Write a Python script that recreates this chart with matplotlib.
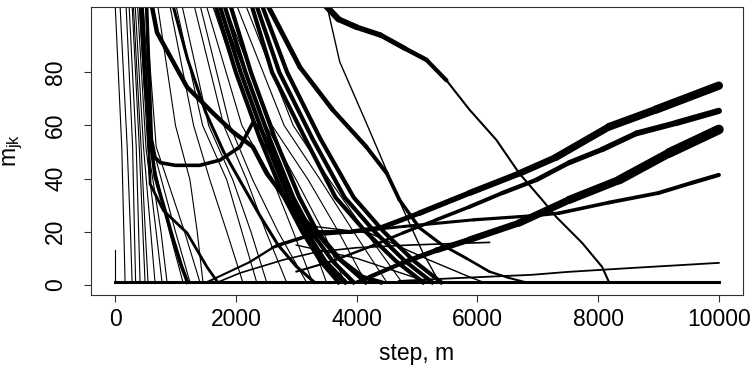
import matplotlib.pyplot as plt

plt.rcParams['font.family'] = ['Liberation Sans', 'DejaVu Sans']
plt.rcParams['mathtext.fontset'] = 'custom'
plt.rcParams['mathtext.rm'] = 'Liberation Sans'

# the floor that every series settles on
base_x = [0, 10000]
base_y = [1, 1]
start_x = [0, 0, 60]
start_y = [13, 1, 1]

# steep thin lines near step 0: x position where each crosses these heights
steep_levels = [106, 52, 20, 1]
steep_x = [
    [0, 110, 145, 165],
    [80, 200, 255, 281],
    [180, 290, 320, 340],
    [230, 350, 390, 413],
    [280, 400, 460, 496],
    [300, 430, 500, 545],
    [330, 470, 590, 661],
    [370, 510, 680, 777],
    [400, 540, 760, 860],
    [430, 580, 900, 1124],
    [460, 620, 1000, 1240],
    [500, 680, 1150, 1405],
]

# thin lines through the middle cluster
mid_levels = [106, 60, 39.5, 20, 1]
mid_x = [
    [700, 1000, 1240, 1360, 1455],
    [900, 1300, 1570, 1850, 2115],
    [1000, 1450, 1850, 2100, 2345],
    [1100, 1550, 1950, 2250, 2510],
    [1300, 1800, 2180, 2500, 2840],
    [1400, 1900, 2280, 2700, 3170],
    [1500, 2100, 2610, 2950, 3270],
    [1600, 2300, 2800, 3200, 3500],
    [1700, 2500, 3000, 3450, 3800],
    [1800, 2600, 3200, 3700, 4150],
    [2000, 2800, 3400, 3950, 4500],
    [2150, 2950, 3550, 4150, 4750],
]

# thick (noisy) bundles falling from the top
bundle_levels = [106, 80, 55, 33, 20, 9, 1]
bundle_x = [
    [1650, 2000, 2400, 2800, 3100, 3400, 3700],
    [1720, 2080, 2480, 2870, 3170, 3480, 3820],
    [1800, 2160, 2560, 2950, 3250, 3600, 3950],
    [1900, 2250, 2650, 3050, 3350, 3750, 4150],
    [2250, 2600, 3150, 3650, 4150, 4650, 5100],
    [2330, 2720, 3270, 3800, 4300, 4800, 5250],
    [2420, 2850, 3400, 3950, 4450, 4950, 5400],
]

hump_x = [520, 560, 600, 660, 750, 1000, 1400, 1740, 2070, 2280, 2400, 2520, 2700, 2900, 3100, 3350, 3600, 3800]
hump_y = [106, 80, 55, 48, 46, 45, 45, 47, 52, 61, 59, 54, 45, 35, 25, 13, 5, 1]

t2_x = [600, 694, 1190, 1620, 1950, 2280, 2510, 2840, 3340, 3700, 4100, 4400]
t2_y = [106, 95, 74.5, 64.7, 57.6, 52, 42, 32, 19.6, 10, 3, 1]
t3_x = [950, 1200, 1500, 1800, 2100, 2400, 2700, 3000, 3300]
t3_y = [106, 85, 65, 50, 38, 26, 15, 7, 1]
t4_x = [420, 500, 600, 661, 800, 950, 1100, 1200]
t4_y = [106, 75, 52, 41, 30, 18, 7, 1]
t5_x = [450, 530, 580, 800, 1190, 1520, 1700]
t5_y = [106, 70, 38, 28, 19.6, 6.8, 1]

# long descending curve from the top middle
d1a_x = [3450, 3700, 4000, 4400, 4800, 5157, 5488]
d1a_y = [106, 100, 97, 94, 89, 84.7, 77]
d1b_x = [5488, 5868, 6314, 6694, 7074, 7306, 7736, 8066, 8182]
d1b_y = [77, 66, 54.6, 42, 32, 25.6, 15.8, 6.8, 1]
d2_x = [2510, 3060, 3600, 4160, 4500, 4710, 5040, 5420, 5820, 6200, 6530, 6800]
d2_y = [106, 82, 66, 52, 42, 32, 21.5, 15, 10, 5, 2.6, 1]
d4_x = [3500, 3720, 4160, 4330, 4760, 5100, 5370]
d4_y = [106, 84, 61, 52, 29, 12, 1]

# rising series on the right
r1_x = [2600, 3000, 3400, 3900, 4400, 5040, 5870, 6700, 7300, 8180, 8960, 10000]
r1_y = [14, 17, 20, 20, 21.5, 27, 34.6, 42, 48, 59.5, 66, 75]
r2_x = [3000, 3600, 4215, 4760, 5320, 5870, 6415, 6975, 7520, 8070, 8630, 9300, 10000]
r2_y = [5, 9, 14.3, 19.5, 24.5, 29.4, 34.6, 39.5, 46, 51, 57, 61, 65.5]
r3_x = [4000, 4215, 4760, 5320, 5870, 6690, 7520, 8350, 9180, 10000]
r3_y = [1, 3, 8.3, 13, 17, 23.3, 32, 39.5, 49.7, 58.5]
r4_x = [1520, 2230, 2680, 3170, 3720, 4780, 5940, 6900, 7350, 8180, 9000, 9550, 10000]
r4_y = [1, 8.6, 15, 18.5, 19.5, 22, 24.5, 26, 27, 31, 34.6, 38.4, 41.4]
r5_x = [4700, 5600, 6900, 7500, 8500, 10000]
r5_y = [1.5, 2.5, 3.8, 4.9, 6.3, 8.3]

# low criss-crossing lines
e1_x = [3300, 4215, 5200, 5870, 6100]
e1_y = [22, 19.5, 9.4, 3, 1]
e2_x = [3000, 4000, 4800, 5200]
e2_y = [15, 10, 4, 1]
s2_x = [1700, 2070, 2780, 3340, 4000, 4880, 5500, 6200]
s2_y = [1, 4.5, 9.4, 12.4, 14, 15, 15.5, 16]

fig = plt.figure(figsize=(7.53, 3.74), dpi=100)
ax = fig.add_axes([0.1208, 0.2112, 0.8659, 0.7701])

k = 'black'


def widening(xs, ys, w0, w1):
    # noisy series: draw segment by segment, spread grows with step
    n = len(xs) - 1
    for i in range(n):
        w = w0 + (w1 - w0) * i / max(n - 1, 1)
        ax.plot(xs[i:i + 2], ys[i:i + 2], color=k, lw=w, solid_capstyle='round')


for xs in steep_x:
    ax.plot(xs, steep_levels, color=k, lw=0.8)
for xs in mid_x:
    ax.plot(xs, mid_levels, color=k, lw=0.8)
for xs in bundle_x:
    ax.plot(xs, bundle_levels, color=k, lw=3)

ax.plot(hump_x, hump_y, color=k, lw=2.6)
ax.plot(t2_x, t2_y, color=k, lw=3.2)
ax.plot(t3_x, t3_y, color=k, lw=2.2)
ax.plot(t4_x, t4_y, color=k, lw=2.6)
ax.plot(t5_x, t5_y, color=k, lw=2)
widening(d1a_x, d1a_y, 4.5, 3)
ax.plot(d1b_x, d1b_y, color=k, lw=1.5)
widening(d2_x, d2_y, 3.5, 1.5)
ax.plot(d4_x, d4_y, color=k, lw=1)
widening(r1_x, r1_y, 2, 6)
widening(r2_x, r2_y, 1.5, 4.5)
widening(r3_x, r3_y, 2.5, 7)
widening(r4_x, r4_y, 1.5, 3)
ax.plot(r5_x, r5_y, color=k, lw=1.3)
ax.plot(e1_x, e1_y, color=k, lw=1)
ax.plot(e2_x, e2_y, color=k, lw=1)
ax.plot(s2_x, s2_y, color=k, lw=1.2)
ax.plot(start_x, start_y, color=k, lw=0.8)
ax.plot(base_x, base_y, color=k, lw=2.2)

ax.set_xlim(-400, 10400)
ax.set_ylim(-3.8, 104.6)
ax.set_xticks([0, 2000, 4000, 6000, 8000, 10000])
ax.set_yticks([0, 20, 40, 60, 80])
ax.tick_params(direction='out', length=5, width=0.8, labelsize=16.5, color='#333333')
ax.tick_params(axis='x', pad=4)
ax.tick_params(axis='y', pad=12)
plt.setp(ax.get_yticklabels(), rotation=90, va='center')
for s in ax.spines.values():
    s.set_linewidth(0.8)
    s.set_color('#333333')

ax.set_xlabel('step, m', fontsize=16.5, labelpad=8)
ax.set_ylabel(r'$\mathregular{m_{jk}}$', fontsize=16.5, labelpad=14)

fig.savefig('out.png', dpi=100)
